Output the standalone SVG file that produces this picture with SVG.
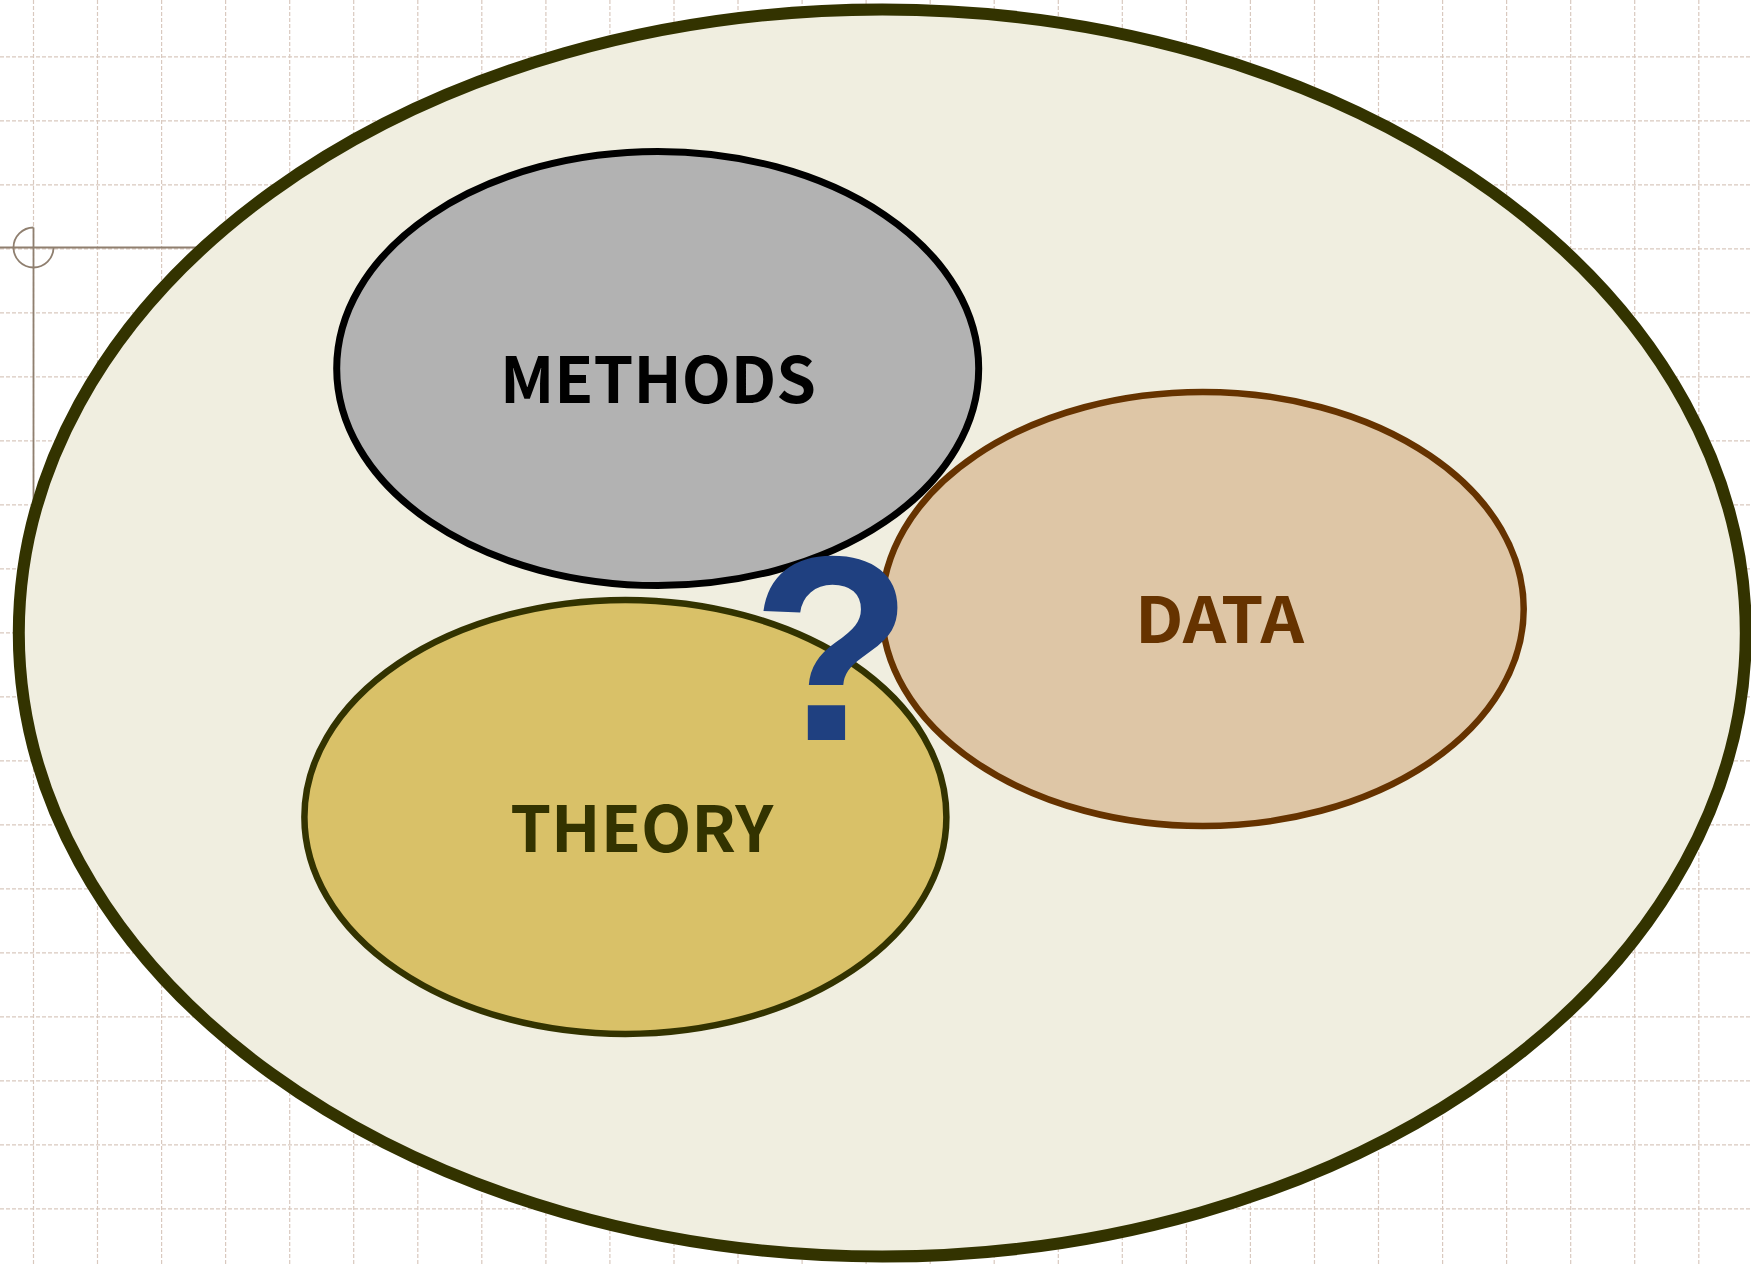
<svg xmlns="http://www.w3.org/2000/svg" width="1751" height="1264" viewBox="0 0 1751 1264">
  <defs>
    <style>
      .grid line { stroke: #d9c9bf; stroke-width: 1.2; stroke-dasharray: 4 2; }
      .guide { fill: none; stroke: #8f7f6f; stroke-width: 1.8; }
      .label { font-family: "Noto Sans CJK SC", "Noto Sans", "Liberation Sans", sans-serif; font-weight: 700; font-size: 64px; text-anchor: middle; }
    </style>
  </defs>

  <rect width="1751" height="1264" fill="#ffffff"/>

  <!-- background grid -->
  <g class="grid" id="grid">
    <line x1="33.5" y1="0" x2="33.5" y2="1264"/>
    <line x1="97.5" y1="0" x2="97.5" y2="1264"/>
    <line x1="161.6" y1="0" x2="161.6" y2="1264"/>
    <line x1="225.6" y1="0" x2="225.6" y2="1264"/>
    <line x1="289.7" y1="0" x2="289.7" y2="1264"/>
    <line x1="353.7" y1="0" x2="353.7" y2="1264"/>
    <line x1="417.8" y1="0" x2="417.8" y2="1264"/>
    <line x1="481.8" y1="0" x2="481.8" y2="1264"/>
    <line x1="545.9" y1="0" x2="545.9" y2="1264"/>
    <line x1="609.9" y1="0" x2="609.9" y2="1264"/>
    <line x1="674.0" y1="0" x2="674.0" y2="1264"/>
    <line x1="738.0" y1="0" x2="738.0" y2="1264"/>
    <line x1="802.1" y1="0" x2="802.1" y2="1264"/>
    <line x1="866.1" y1="0" x2="866.1" y2="1264"/>
    <line x1="930.2" y1="0" x2="930.2" y2="1264"/>
    <line x1="994.2" y1="0" x2="994.2" y2="1264"/>
    <line x1="1058.3" y1="0" x2="1058.3" y2="1264"/>
    <line x1="1122.3" y1="0" x2="1122.3" y2="1264"/>
    <line x1="1186.4" y1="0" x2="1186.4" y2="1264"/>
    <line x1="1250.4" y1="0" x2="1250.4" y2="1264"/>
    <line x1="1314.5" y1="0" x2="1314.5" y2="1264"/>
    <line x1="1378.5" y1="0" x2="1378.5" y2="1264"/>
    <line x1="1442.6" y1="0" x2="1442.6" y2="1264"/>
    <line x1="1506.6" y1="0" x2="1506.6" y2="1264"/>
    <line x1="1570.7" y1="0" x2="1570.7" y2="1264"/>
    <line x1="1634.7" y1="0" x2="1634.7" y2="1264"/>
    <line x1="1698.8" y1="0" x2="1698.8" y2="1264"/>
    <line x1="0" y1="56.8" x2="1751" y2="56.8"/>
    <line x1="0" y1="120.8" x2="1751" y2="120.8"/>
    <line x1="0" y1="184.8" x2="1751" y2="184.8"/>
    <line x1="0" y1="248.8" x2="1751" y2="248.8"/>
    <line x1="0" y1="312.8" x2="1751" y2="312.8"/>
    <line x1="0" y1="376.8" x2="1751" y2="376.8"/>
    <line x1="0" y1="440.8" x2="1751" y2="440.8"/>
    <line x1="0" y1="504.8" x2="1751" y2="504.8"/>
    <line x1="0" y1="568.8" x2="1751" y2="568.8"/>
    <line x1="0" y1="632.8" x2="1751" y2="632.8"/>
    <line x1="0" y1="696.8" x2="1751" y2="696.8"/>
    <line x1="0" y1="760.8" x2="1751" y2="760.8"/>
    <line x1="0" y1="824.8" x2="1751" y2="824.8"/>
    <line x1="0" y1="888.8" x2="1751" y2="888.8"/>
    <line x1="0" y1="952.8" x2="1751" y2="952.8"/>
    <line x1="0" y1="1016.8" x2="1751" y2="1016.8"/>
    <line x1="0" y1="1080.8" x2="1751" y2="1080.8"/>
    <line x1="0" y1="1144.8" x2="1751" y2="1144.8"/>
    <line x1="0" y1="1208.8" x2="1751" y2="1208.8"/>
  </g>

  <!-- origin guide mark -->
  <g id="origin-mark">
    <line class="guide" x1="0" y1="247.5" x2="220" y2="247.5"/>
    <line class="guide" x1="33.5" y1="227.5" x2="33.5" y2="640"/>
    <path class="guide" d="M33.5,227.5 A20,20 0 1 0 53.5,247.5"/>
  </g>

  <!-- enclosing context -->
  <g id="node-context">
    <ellipse cx="882.3" cy="633" rx="863.5" ry="623.5" fill="#f0eee0" stroke="#333300" stroke-width="12"/>
  </g>

  <g id="node-methods">
    <ellipse cx="657.7" cy="368.5" rx="321" ry="217" fill="#b2b2b2" stroke="#000000" stroke-width="7"/>
    <text class="label" x="658" y="403.3" fill="#000000" textLength="316" lengthAdjust="spacingAndGlyphs">METHODS</text>
  </g>

  <g id="node-data">
    <ellipse cx="1202.7" cy="609" rx="321" ry="217" fill="#dec6a6" stroke="#663300" stroke-width="6.5"/>
    <text class="label" x="1219.5" y="642.7" fill="#663300" textLength="169" lengthAdjust="spacingAndGlyphs">DATA</text>
  </g>

  <g id="node-theory">
    <ellipse cx="625.4" cy="816.9" rx="321" ry="217" fill="#d9c168" stroke="#333300" stroke-width="6.5"/>
    <text class="label" x="641.7" y="851.7" fill="#333300" textLength="263" lengthAdjust="spacingAndGlyphs">THEORY</text>
  </g>

  <g id="node-question">
    <text x="832" y="740" fill="#1f4080" font-family="'Liberation Sans', Arial, sans-serif" font-weight="700" font-size="264" text-anchor="middle">?</text>
  </g>

  <g id="connectors"/>
</svg>
